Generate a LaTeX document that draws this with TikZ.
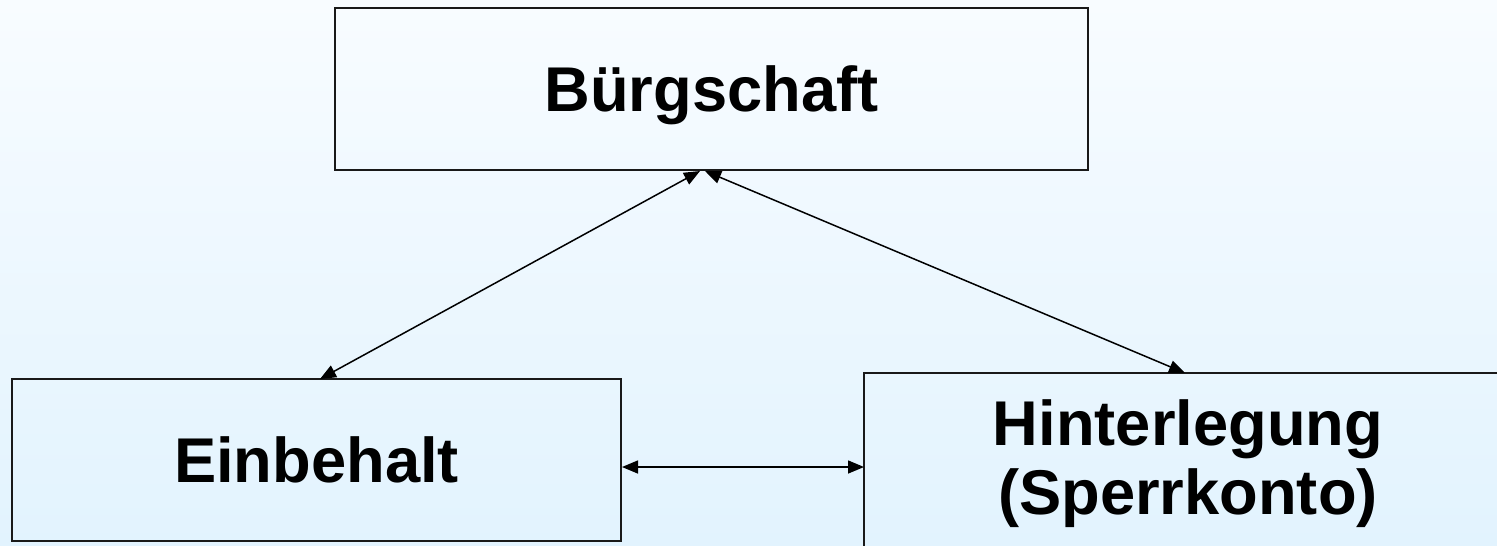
\documentclass[tikz,border=0pt]{standalone}
\usepackage{fontspec}
\setmainfont{Liberation Sans}
\usetikzlibrary{arrows.meta}
\definecolor{bgtop}{HTML}{F8FCFF}
\definecolor{bgbot}{HTML}{E2F3FE}
\tikzset{
  txt/.style={inner sep=0pt, align=center, text depth=0pt,
    font=\bfseries\fontsize{36}{39.5}\selectfont},
  box/.style={txt, draw=black!90, line width=0.03cm, rectangle},
  arr/.style={line width=0.03cm, {Triangle[length=0.32cm,width=0.26cm]}-{Triangle[length=0.32cm,width=0.26cm]}}
}
\begin{document}
\begin{tikzpicture}[x=0.02cm,y=-0.02cm]
  \useasboundingbox (0,0) rectangle (1497,545);
  \clip (0,0) rectangle (1497,545);
  \shade[top color=bgtop, bottom color=bgbot] (0,0) rectangle (1497,545);
  \node[box, minimum width=15.06cm, minimum height=3.24cm] (b) at (711.5,89) {Bürgschaft};
  \node[box, minimum width=12.18cm, minimum height=3.24cm] (e) at (316.5,460) {Einbehalt};
  \node[box, minimum width=12.96cm, minimum height=3.88cm] (h) at (1188,470) {};
  \node[txt, anchor=south] (ht) at (1188,515) {Hinterlegung\\(Sperrkonto)};
  \coordinate (e1) at (320,379);
  \coordinate (b1) at (700,171);
  \coordinate (b2) at (705,171);
  \coordinate (h1) at (1185,373);
  \coordinate (e2) at (622,467);
  \coordinate (h2) at (864,467);
  \draw[arr] (e1) -- (b1);
  \draw[arr] (b2) -- (h1);
  \draw[arr] (e2) -- (h2);
\end{tikzpicture}
\end{document}
